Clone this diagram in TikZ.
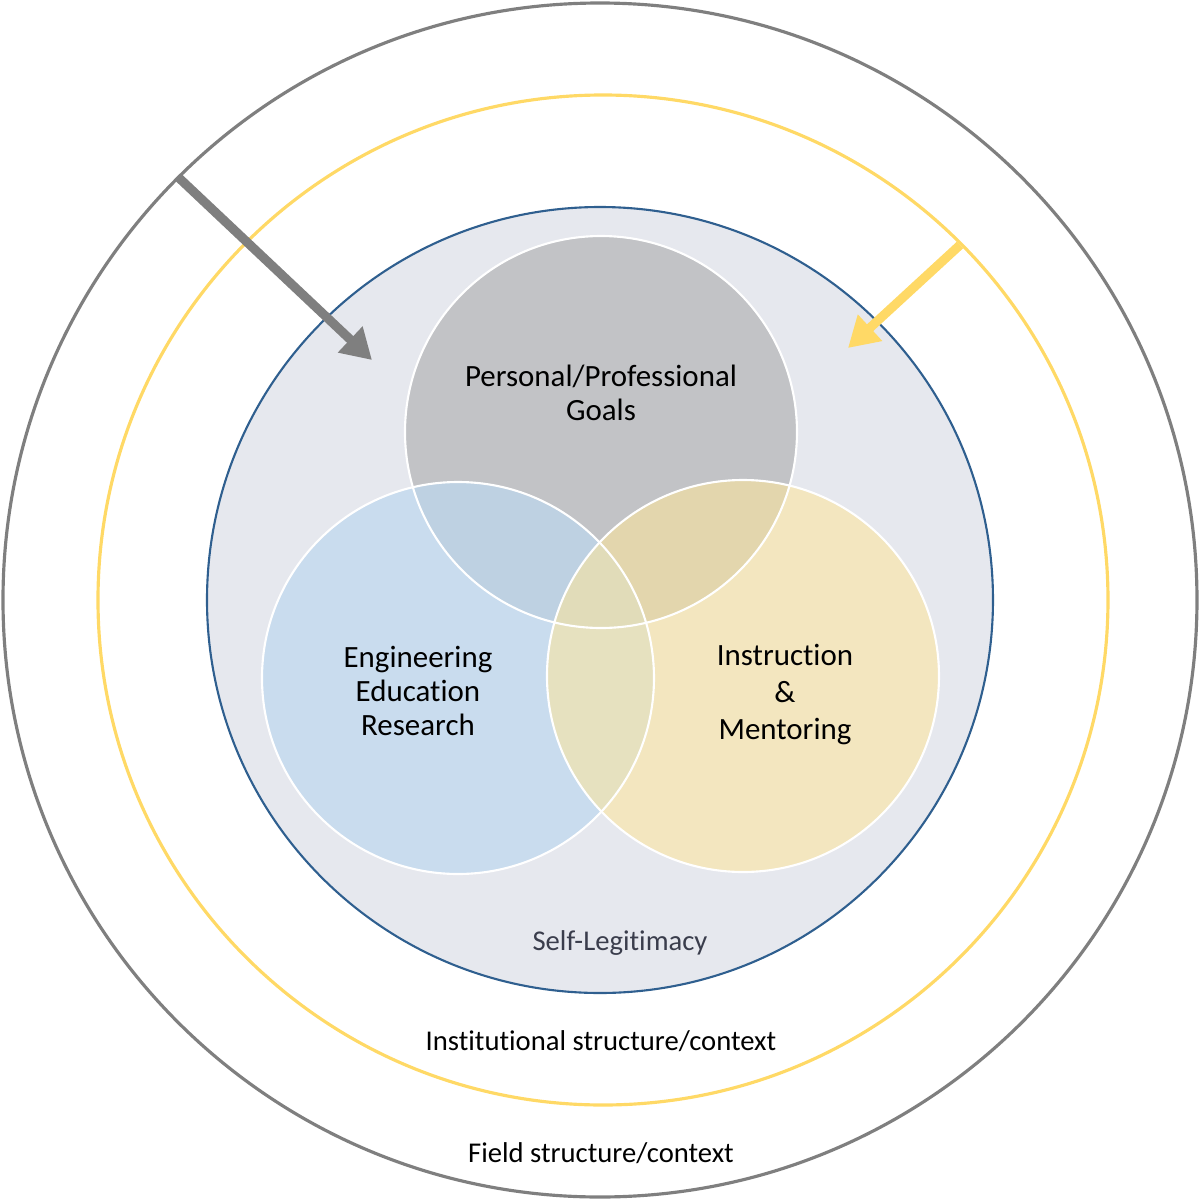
\documentclass[tikz,border=0pt]{standalone}
\usepackage{fontspec}
\setmainfont{Carlito}[Ligatures=NoCommon]
\usetikzlibrary{arrows.meta}
\definecolor{fieldgray}{HTML}{7F7F7F}
\definecolor{instyellow}{HTML}{FFD966}
\definecolor{selfblue}{HTML}{2F5F8F}
\definecolor{selffill}{HTML}{E6E8EE}
\definecolor{goalgray}{HTML}{A6A6A6}
\definecolor{researchblue}{HTML}{BDD7EE}
\definecolor{teachyellow}{HTML}{FFE699}
\definecolor{selftext}{HTML}{3A3D4C}
\tikzset{
  lbl/.style={align=center,font=\fontsize{8.8}{9.6}\selectfont},
  ctx/.style={font=\fontsize{8.15}{9.6}\selectfont},
  venn/.style={draw=white,line width=0.6pt},
  push/.style={line width=2.6pt,-{Triangle[length=0.3cm,width=0.34cm]}}
}
\begin{document}
\begin{tikzpicture}
		\useasboundingbox (-6,-6) rectangle (6,6);
		% contexts
			\draw[fieldgray,line width=0.9pt] (0,0) circle (5.97);
			\draw[instyellow,line width=0.9pt] (0.03,0) circle (5.05);
		% self-legitimacy
			\draw[selfblue,fill=selffill,line width=0.6pt] (0,0) circle (3.93);
		% roles
			\fill[goalgray,fill opacity=.55] (0.01,1.68) circle (1.96);
			\fill[researchblue,fill opacity=.7] (-1.42,-0.78) circle (1.96);
			\fill[teachyellow,fill opacity=.55] (1.43,-0.76) circle (1.96);
			\foreach \c in {(0.01,1.68),(-1.42,-0.78),(1.43,-0.76)}{
				\draw[venn] \c circle (1.96);
				}
		% labels
			\node[lbl] (goals) at (0.01,2.07) {Personal/Professional\\Goals};
			\node[lbl] (eer) at (-1.82,-0.91) {Engineering\\Education\\Research};
			\node[lbl,text depth=0pt] (teach) at (1.85,-0.92) {Instruction\\[1pt]\&\\[1pt]Mentoring};
			\node[ctx,text=selftext] (self) at (0.20,-3.43) {Self-Legitimacy};
			\node[ctx] (inst) at (0.01,-4.41) {Institutional structure/context};
			\node[ctx] (field) at (0.01,-5.53) {Field structure/context};
		% influences
		 \path	(-4.22,4.23) coordinate (field-in)
		 		(-2.28,2.40) coordinate (field-tip)
		 		(3.60,3.55) coordinate (inst-in)
		 		(2.48,2.52) coordinate (inst-tip);
			\draw[push,fieldgray] (field-in) -- (field-tip);
			\draw[push,instyellow] (inst-in) -- (inst-tip);
	\end{tikzpicture}
\end{document}
